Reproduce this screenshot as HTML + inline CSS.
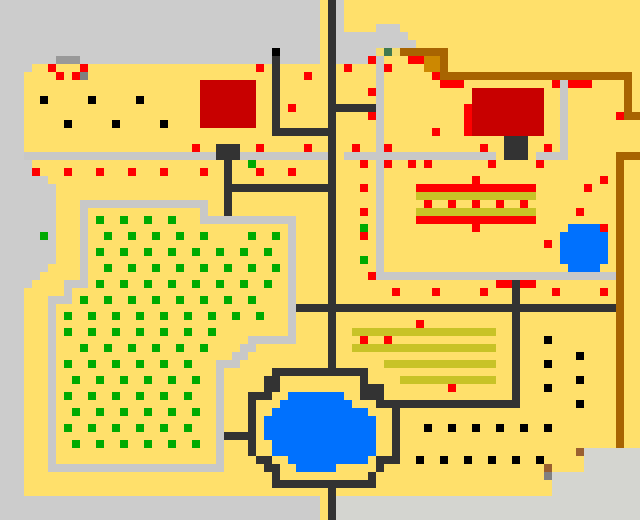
<!DOCTYPE html>
<html><head><meta charset="utf-8"><style>html,body{margin:0;padding:0;background:#cccccc}svg{display:block}</style></head><body>
<svg width="640" height="520" viewBox="0 0 640 520" xmlns="http://www.w3.org/2000/svg" shape-rendering="crispEdges">
<rect width="640" height="520" fill="#ffe06a"/>
<g fill="#cccccc">
<rect x="0" y="0" width="320" height="64"/>
<rect x="0" y="64" width="32" height="8"/>
<rect x="0" y="72" width="24" height="88"/>
<rect x="0" y="160" width="32" height="16"/>
<rect x="0" y="176" width="48" height="8"/>
<rect x="0" y="184" width="56" height="80"/>
<rect x="0" y="264" width="48" height="8"/>
<rect x="0" y="272" width="40" height="8"/>
<rect x="0" y="280" width="32" height="8"/>
<rect x="0" y="288" width="24" height="232"/>
<rect x="0" y="496" width="320" height="24"/>
<rect x="336" y="0" width="8" height="32"/>
<rect x="336" y="32" width="40" height="32"/>
<rect x="376" y="24" width="24" height="24"/>
<rect x="400" y="32" width="8" height="16"/>
<rect x="408" y="40" width="8" height="8"/>
</g>
<g fill="#d4d4d0">
<rect x="336" y="496" width="304" height="24"/>
<rect x="552" y="472" width="88" height="24"/>
<rect x="584" y="448" width="56" height="24"/>
</g>
<rect x="376" y="48" width="8" height="8" fill="#f4dc70"/>
<rect x="392" y="48" width="8" height="8" fill="#f4dc70"/>
<rect x="384" y="48" width="8" height="8" fill="#407850"/>
<!-- light grey paths -->
<g fill="#c8c8c8">
<rect x="24" y="152" width="304" height="8"/>
<rect x="344" y="152" width="152" height="8"/>
<rect x="536" y="152" width="32" height="8"/>
<rect x="560" y="80" width="8" height="80"/>
<rect x="376" y="56" width="8" height="224"/>
<rect x="376" y="272" width="240" height="8"/>
<rect x="80" y="200" width="128" height="8"/>
<rect x="80" y="200" width="8" height="88"/>
<rect x="200" y="200" width="8" height="24"/>
<rect x="200" y="216" width="96" height="8"/>
<rect x="288" y="216" width="8" height="128"/>
<rect x="248" y="336" width="48" height="8"/>
<rect x="240" y="344" width="16" height="8"/>
<rect x="232" y="352" width="16" height="8"/>
<rect x="216" y="360" width="24" height="8"/>
<rect x="216" y="360" width="8" height="112"/>
<rect x="48" y="464" width="176" height="8"/>
<rect x="64" y="280" width="24" height="8"/>
<rect x="64" y="288" width="8" height="8"/>
<rect x="48" y="296" width="24" height="8"/>
<rect x="48" y="296" width="8" height="176"/>
</g>
<rect x="56" y="56" width="24" height="8" fill="#999999"/>
<rect x="80" y="72" width="8" height="8" fill="#808080"/>
<!-- brown fences -->
<g fill="#a86400">
<rect x="400" y="48" width="48" height="8"/>
<rect x="440" y="48" width="8" height="32"/>
<rect x="440" y="72" width="192" height="8"/>
<rect x="624" y="72" width="8" height="48"/>
<rect x="624" y="112" width="16" height="8"/>
<rect x="616" y="152" width="24" height="8"/>
<rect x="616" y="152" width="8" height="296"/>
</g>
<rect x="424" y="56" width="16" height="16" fill="#cc8800"/>
<!-- dark roads -->
<g fill="#333333">
<rect x="328" y="0" width="8" height="376"/>
<rect x="328" y="480" width="8" height="40"/>
<rect x="272" y="56" width="8" height="80"/>
<rect x="272" y="128" width="56" height="8"/>
<rect x="336" y="104" width="40" height="8"/>
<rect x="216" y="144" width="24" height="16"/>
<rect x="224" y="160" width="8" height="56"/>
<rect x="232" y="184" width="96" height="8"/>
<rect x="504" y="136" width="24" height="24"/>
<rect x="296" y="304" width="320" height="8"/>
<rect x="512" y="280" width="8" height="128"/>
<rect x="376" y="400" width="144" height="8"/>
<rect x="272" y="368" width="96" height="8"/>
<rect x="264" y="376" width="16" height="16"/>
<rect x="248" y="392" width="24" height="8"/>
<rect x="248" y="392" width="8" height="64"/>
<rect x="256" y="456" width="16" height="8"/>
<rect x="264" y="464" width="16" height="8"/>
<rect x="272" y="472" width="8" height="8"/>
<rect x="272" y="480" width="104" height="8"/>
<rect x="224" y="432" width="24" height="8"/>
<rect x="360" y="376" width="8" height="8"/>
<rect x="360" y="384" width="24" height="16"/>
<rect x="392" y="400" width="8" height="64"/>
<rect x="376" y="456" width="24" height="8"/>
<rect x="376" y="464" width="8" height="8"/>
<rect x="368" y="472" width="8" height="16"/>
</g>
<rect x="272" y="48" width="8" height="8" fill="#000"/>
<!-- pond -->
<g fill="#0070ff">
<rect x="288" y="392" width="56" height="8"/>
<rect x="280" y="400" width="72" height="8"/>
<rect x="272" y="408" width="96" height="8"/>
<rect x="264" y="416" width="112" height="24"/>
<rect x="272" y="440" width="104" height="16"/>
<rect x="288" y="456" width="80" height="8"/>
<rect x="296" y="464" width="40" height="8"/>
<rect x="568" y="224" width="32" height="48"/>
<rect x="560" y="232" width="48" height="32"/>
</g>
<!-- buildings -->
<rect x="200" y="80" width="56" height="48" fill="#c80000"/>
<rect x="472" y="88" width="72" height="48" fill="#c80000"/>
<rect x="464" y="104" width="8" height="32" fill="#ff0000"/>
<!-- olive bars -->
<g fill="#c8c428">
<rect x="416" y="192" width="120" height="8"/>
<rect x="416" y="208" width="120" height="8"/>
<rect x="352" y="328" width="144" height="8"/>
<rect x="352" y="344" width="144" height="8"/>
<rect x="384" y="360" width="112" height="8"/>
<rect x="400" y="376" width="96" height="8"/>
</g>
<g fill="#ff0000">
<rect x="416" y="184" width="120" height="8"/>
<rect x="416" y="216" width="120" height="8"/>
<rect x="408" y="56" width="16" height="8"/>
<rect x="440" y="80" width="24" height="8"/>
<rect x="568" y="80" width="24" height="8"/>
<rect x="496" y="280" width="16" height="8"/>
<rect x="520" y="280" width="16" height="8"/>
</g>
<g fill="#ff0000" id="reds">
<rect x="48" y="64" width="8" height="8"/><rect x="56" y="72" width="8" height="8"/><rect x="80" y="64" width="8" height="8"/><rect x="72" y="72" width="8" height="8"/>
<rect x="256" y="64" width="8" height="8"/><rect x="304" y="72" width="8" height="8"/><rect x="288" y="104" width="8" height="8"/>
<rect x="192" y="144" width="8" height="8"/><rect x="256" y="144" width="8" height="8"/><rect x="304" y="144" width="8" height="8"/>
<rect x="32" y="168" width="8" height="8"/><rect x="64" y="168" width="8" height="8"/><rect x="96" y="168" width="8" height="8"/><rect x="128" y="168" width="8" height="8"/><rect x="160" y="168" width="8" height="8"/><rect x="200" y="168" width="8" height="8"/><rect x="256" y="168" width="8" height="8"/><rect x="288" y="168" width="8" height="8"/>
<rect x="344" y="64" width="8" height="8"/><rect x="368" y="56" width="8" height="8"/><rect x="384" y="64" width="8" height="8"/><rect x="432" y="72" width="8" height="8"/><rect x="368" y="88" width="8" height="8"/><rect x="368" y="112" width="8" height="8"/><rect x="432" y="128" width="8" height="8"/>
<rect x="352" y="144" width="8" height="8"/><rect x="384" y="144" width="8" height="8"/><rect x="480" y="144" width="8" height="8"/><rect x="544" y="144" width="8" height="8"/>
<rect x="360" y="160" width="8" height="8"/><rect x="384" y="160" width="8" height="8"/><rect x="408" y="160" width="8" height="8"/><rect x="424" y="160" width="8" height="8"/><rect x="488" y="160" width="8" height="8"/><rect x="536" y="160" width="8" height="8"/>
<rect x="552" y="80" width="8" height="8"/><rect x="616" y="112" width="8" height="8"/>
<rect x="600" y="176" width="8" height="8"/><rect x="584" y="184" width="8" height="8"/><rect x="576" y="208" width="8" height="8"/><rect x="600" y="224" width="8" height="8"/><rect x="544" y="240" width="8" height="8"/>
<rect x="360" y="184" width="8" height="8"/><rect x="360" y="208" width="8" height="8"/><rect x="360" y="232" width="8" height="8"/>
<rect x="472" y="176" width="8" height="8"/><rect x="472" y="224" width="8" height="8"/>
<rect x="424" y="200" width="8" height="8"/><rect x="448" y="200" width="8" height="8"/><rect x="472" y="200" width="8" height="8"/><rect x="496" y="200" width="8" height="8"/><rect x="520" y="200" width="8" height="8"/>
<rect x="368" y="272" width="8" height="8"/>
<rect x="392" y="288" width="8" height="8"/><rect x="432" y="288" width="8" height="8"/><rect x="480" y="288" width="8" height="8"/><rect x="552" y="288" width="8" height="8"/><rect x="600" y="288" width="8" height="8"/>
<rect x="416" y="320" width="8" height="8"/><rect x="360" y="336" width="8" height="8"/><rect x="384" y="336" width="8" height="8"/><rect x="448" y="384" width="8" height="8"/>
</g>
<g fill="#000">
<rect x="40" y="96" width="8" height="8"/><rect x="88" y="96" width="8" height="8"/><rect x="136" y="96" width="8" height="8"/>
<rect x="64" y="120" width="8" height="8"/><rect x="112" y="120" width="8" height="8"/><rect x="160" y="120" width="8" height="8"/>
<rect x="544" y="336" width="8" height="8"/><rect x="576" y="352" width="8" height="8"/><rect x="544" y="360" width="8" height="8"/><rect x="576" y="376" width="8" height="8"/><rect x="544" y="384" width="8" height="8"/><rect x="576" y="400" width="8" height="8"/>
<rect x="424" y="424" width="8" height="8"/><rect x="448" y="424" width="8" height="8"/><rect x="472" y="424" width="8" height="8"/><rect x="496" y="424" width="8" height="8"/><rect x="520" y="424" width="8" height="8"/><rect x="544" y="424" width="8" height="8"/>
<rect x="416" y="456" width="8" height="8"/><rect x="440" y="456" width="8" height="8"/><rect x="464" y="456" width="8" height="8"/><rect x="488" y="456" width="8" height="8"/><rect x="512" y="456" width="8" height="8"/><rect x="536" y="456" width="8" height="8"/>
</g>
<rect x="576" y="448" width="8" height="8" fill="#9a6030"/>
<rect x="544" y="464" width="8" height="8" fill="#9a6030"/>
<rect x="544" y="472" width="8" height="8" fill="#808080"/>
<g fill="#00aa00">
<rect x="40" y="232" width="8" height="8"/><rect x="248" y="160" width="8" height="8"/>
<rect x="360" y="224" width="8" height="8"/><rect x="360" y="256" width="8" height="8"/>
<rect x="96" y="216" width="8" height="8"/><rect x="120" y="216" width="8" height="8"/><rect x="144" y="216" width="8" height="8"/><rect x="168" y="216" width="8" height="8"/>
<rect x="104" y="232" width="8" height="8"/><rect x="128" y="232" width="8" height="8"/><rect x="152" y="232" width="8" height="8"/><rect x="176" y="232" width="8" height="8"/><rect x="200" y="232" width="8" height="8"/><rect x="248" y="232" width="8" height="8"/><rect x="272" y="232" width="8" height="8"/>
<rect x="96" y="248" width="8" height="8"/><rect x="120" y="248" width="8" height="8"/><rect x="144" y="248" width="8" height="8"/><rect x="168" y="248" width="8" height="8"/><rect x="192" y="248" width="8" height="8"/><rect x="216" y="248" width="8" height="8"/><rect x="240" y="248" width="8" height="8"/><rect x="264" y="248" width="8" height="8"/>
<rect x="104" y="264" width="8" height="8"/><rect x="128" y="264" width="8" height="8"/><rect x="152" y="264" width="8" height="8"/><rect x="176" y="264" width="8" height="8"/><rect x="200" y="264" width="8" height="8"/><rect x="224" y="264" width="8" height="8"/><rect x="248" y="264" width="8" height="8"/><rect x="272" y="264" width="8" height="8"/>
<rect x="96" y="280" width="8" height="8"/><rect x="120" y="280" width="8" height="8"/><rect x="144" y="280" width="8" height="8"/><rect x="168" y="280" width="8" height="8"/><rect x="192" y="280" width="8" height="8"/><rect x="216" y="280" width="8" height="8"/><rect x="240" y="280" width="8" height="8"/><rect x="264" y="280" width="8" height="8"/>
<rect x="80" y="296" width="8" height="8"/><rect x="104" y="296" width="8" height="8"/><rect x="128" y="296" width="8" height="8"/><rect x="152" y="296" width="8" height="8"/><rect x="176" y="296" width="8" height="8"/><rect x="200" y="296" width="8" height="8"/><rect x="224" y="296" width="8" height="8"/><rect x="248" y="296" width="8" height="8"/>
<rect x="64" y="312" width="8" height="8"/><rect x="88" y="312" width="8" height="8"/><rect x="112" y="312" width="8" height="8"/><rect x="136" y="312" width="8" height="8"/><rect x="160" y="312" width="8" height="8"/><rect x="184" y="312" width="8" height="8"/><rect x="208" y="312" width="8" height="8"/><rect x="232" y="312" width="8" height="8"/><rect x="256" y="312" width="8" height="8"/>
<rect x="64" y="328" width="8" height="8"/><rect x="88" y="328" width="8" height="8"/><rect x="112" y="328" width="8" height="8"/><rect x="136" y="328" width="8" height="8"/><rect x="160" y="328" width="8" height="8"/><rect x="184" y="328" width="8" height="8"/><rect x="208" y="328" width="8" height="8"/>
<rect x="80" y="344" width="8" height="8"/><rect x="104" y="344" width="8" height="8"/><rect x="128" y="344" width="8" height="8"/><rect x="152" y="344" width="8" height="8"/><rect x="176" y="344" width="8" height="8"/><rect x="200" y="344" width="8" height="8"/>
<rect x="64" y="360" width="8" height="8"/><rect x="88" y="360" width="8" height="8"/><rect x="112" y="360" width="8" height="8"/><rect x="136" y="360" width="8" height="8"/><rect x="160" y="360" width="8" height="8"/><rect x="184" y="360" width="8" height="8"/>
<rect x="72" y="376" width="8" height="8"/><rect x="96" y="376" width="8" height="8"/><rect x="120" y="376" width="8" height="8"/><rect x="144" y="376" width="8" height="8"/><rect x="168" y="376" width="8" height="8"/><rect x="192" y="376" width="8" height="8"/>
<rect x="64" y="392" width="8" height="8"/><rect x="88" y="392" width="8" height="8"/><rect x="112" y="392" width="8" height="8"/><rect x="136" y="392" width="8" height="8"/><rect x="160" y="392" width="8" height="8"/><rect x="184" y="392" width="8" height="8"/>
<rect x="72" y="408" width="8" height="8"/><rect x="96" y="408" width="8" height="8"/><rect x="120" y="408" width="8" height="8"/><rect x="144" y="408" width="8" height="8"/><rect x="168" y="408" width="8" height="8"/><rect x="192" y="408" width="8" height="8"/>
<rect x="64" y="424" width="8" height="8"/><rect x="88" y="424" width="8" height="8"/><rect x="112" y="424" width="8" height="8"/><rect x="136" y="424" width="8" height="8"/><rect x="160" y="424" width="8" height="8"/><rect x="184" y="424" width="8" height="8"/>
<rect x="72" y="440" width="8" height="8"/><rect x="96" y="440" width="8" height="8"/><rect x="120" y="440" width="8" height="8"/><rect x="144" y="440" width="8" height="8"/><rect x="168" y="440" width="8" height="8"/><rect x="192" y="440" width="8" height="8"/>
</g>
</svg>
</body></html>
